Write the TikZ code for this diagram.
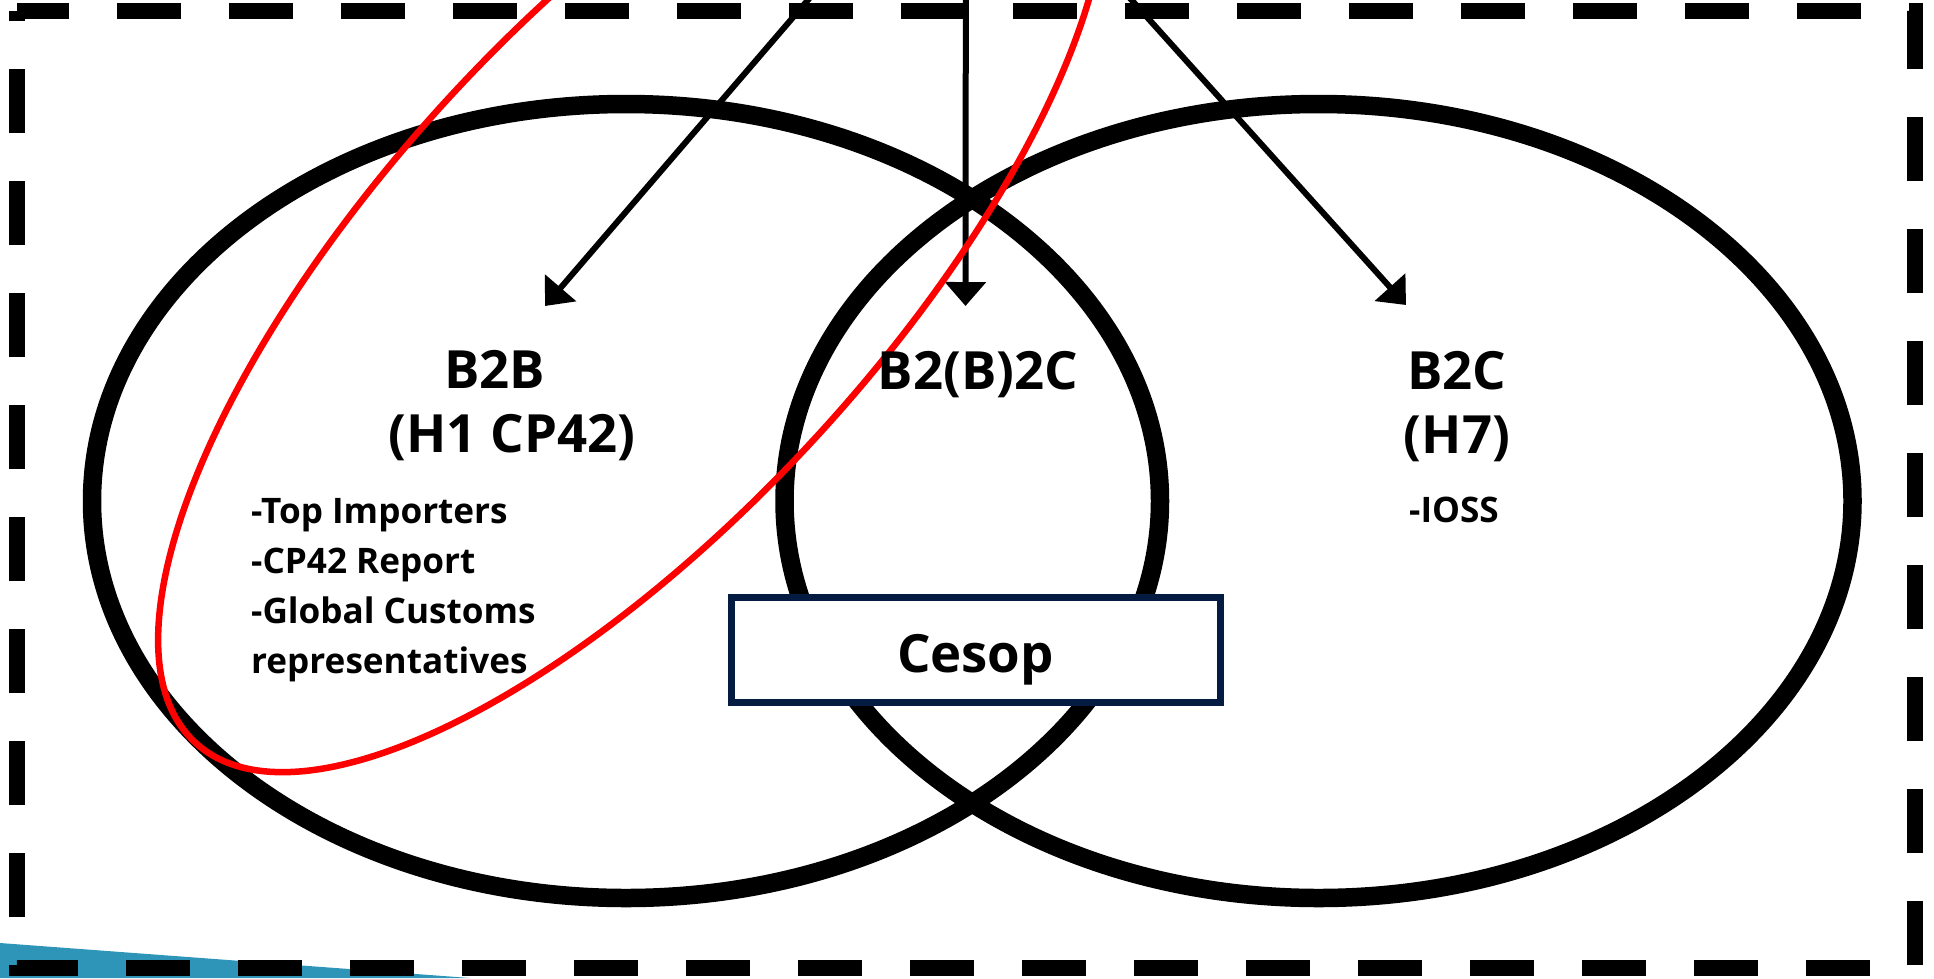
\documentclass[tikz,border=0pt]{standalone}
\usepackage{fontspec}
\setmainfont{Open Sans}
\usepackage{tikz}
\usetikzlibrary{arrows.meta,shapes.geometric,positioning}
\definecolor{focusred}{HTML}{FF0000}
\definecolor{cesopnavy}{HTML}{041C42}
\definecolor{cornerblue}{HTML}{2E95B8}
\tikzset{
    every node/.style={font=\bfseries},
    frame/.style={line width=1.6mm,dash pattern=on 6.4mm off 4.8mm,dash phase=1.2mm},
    vennset/.style={ellipse,draw,line width=1.85mm,minimum width=10.68cm,minimum height=7.94cm,inner sep=0pt},
    focusset/.style={ellipse,draw=focusred,line width=0.65mm,minimum width=12.9cm,minimum height=5cm,inner sep=0pt},
    setname/.style={font=\fontsize{15}{18.2}\selectfont\bfseries,align=center,inner sep=0pt},
    setitems/.style={font=\fontsize{10}{14.2}\selectfont\bfseries,align=left,inner sep=0pt},
    reportbox/.style={rectangle,draw=cesopnavy,line width=0.7mm,fill=white,minimum width=4.89cm,minimum height=1.05cm,inner sep=0pt,text height=0.45cm,text depth=0pt,font=\fontsize{15}{18}\selectfont\bfseries},
    feed/.style={line width=0.6mm,-{Triangle[length=2.4mm,width=4mm]}}
}

\begin{document}
\begin{tikzpicture}
\useasboundingbox (0,0) rectangle (19.34,-9.78);
\clip (0,0) rectangle (19.34,-9.78);
\fill[cornerblue] (0,-9.43) -- (4.70,-9.78) -- (0,-9.78) -- cycle;
\draw[frame] (0.17,-0.11) -- (19.15,-0.11) -- (19.15,-9.68) -- (0.17,-9.68) -- cycle;

\node[vennset] (b2bset) at (6.26,-5.01) {};
\node[vennset] (b2cset) at (13.185,-5.01) {};

\coordinate (feedsrc) at (9.66,1.84);
\coordinate (b2btip) at (5.45,-3.06);
\coordinate (mixtip) at (9.655,-3.06);
\coordinate (b2ctip) at (14.06,-3.05);
\draw[feed] (feedsrc) -- (b2btip);
\draw[feed] (feedsrc) -- (mixtip);
\draw[feed] (feedsrc) -- (b2ctip);

\node[focusset,rotate=47.4] (customs) at (6.32,-2.68) {};

\node[setname,anchor=north] (b2b) at (5.12,-3.50) {B2B\hspace*{0.35cm}\\(H1 CP42)};
\node[setitems,anchor=north west] (b2bitems) at (2.505,-4.98) {-Top Importers\\-CP42 Report\\-Global Customs\\representatives};
\node[setname,anchor=base] (mixed) at (9.78,-3.89) {B2(B)2C};
\node[setname,anchor=north] (b2c) at (14.57,-3.51) {B2C\\(H7)};
\node[setitems,anchor=base] (b2citems) at (14.54,-5.22) {-IOSS};
\node[reportbox] (cesop) at (9.755,-6.495) {Cesop};
\end{tikzpicture}
\end{document}
